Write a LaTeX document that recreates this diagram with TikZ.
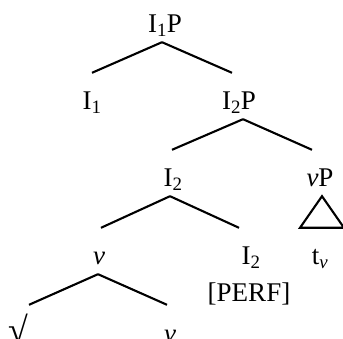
\documentclass[tikz,border=0pt]{standalone}
\usepackage{fontspec}
\setmainfont{Liberation Serif}
\newcommand{\catfont}{\fontsize{27}{32}\selectfont}

\begin{document}
\begin{tikzpicture}[
  x=1pt, y=1pt,
  cat/.style={anchor=base, inner xsep=0pt, inner ysep=9pt,
    text height=28pt, text depth=0pt, font=\catfont},
  feat/.style={anchor=base, inner sep=0pt, font=\catfont},
  branch/.style={line width=2.1pt}
]
\useasboundingbox (0,0) rectangle (343,-339);
\node[cat] (i1p) at (165,-33) {I\textsubscript{1}P};
\node[cat] (i1) at (92,-110) {I\textsubscript{1}};
\node[cat] (i2p) at (239,-110) {I\textsubscript{2}P};
\node[cat] (i2) at (173,-187) {I\textsubscript{2}};
\node[cat] (vp) at (320,-187) {\textit{v}P};
\node[cat] (v) at (99,-265) {\textit{v}};
\node[cat] (i2b) at (251,-265) {I\textsubscript{2}};
\node[feat] (perf) at (249,-302) {[PERF]};
\node[cat] (tv) at (320,-265) {t\textsubscript{\textit{v}}};
\node[cat, font=\fontsize{36}{40}\selectfont] (root) at (18,-342) {√};
\node[cat] (v2) at (170,-342) {\textit{v}};
\draw[branch] ([xshift=-3pt]i1p.south) -- (i1.north);
\draw[branch] ([xshift=-3pt]i1p.south) -- ([xshift=-7pt]i2p.north);
\draw[branch] ([xshift=4pt]i2p.south) -- ([xshift=-1pt]i2.north);
\draw[branch] ([xshift=4pt]i2p.south) -- ([xshift=-8pt]vp.north);
\draw[branch] ([xshift=-3pt]i2.south) -- ([xshift=2pt]v.north);
\draw[branch] ([xshift=-3pt]i2.south) -- ([xshift=-12pt]i2b.north);
\draw[branch] ([xshift=2pt]vp.south) -- ([xshift=-20pt]tv.north) -- ([xshift=24pt]tv.north) -- cycle;
\draw[branch] ([xshift=-1pt]v.south) -- ([xshift=11pt]root.north);
\draw[branch] ([xshift=-1pt]v.south) -- ([xshift=-3pt]v2.north);
\end{tikzpicture}
\end{document}
